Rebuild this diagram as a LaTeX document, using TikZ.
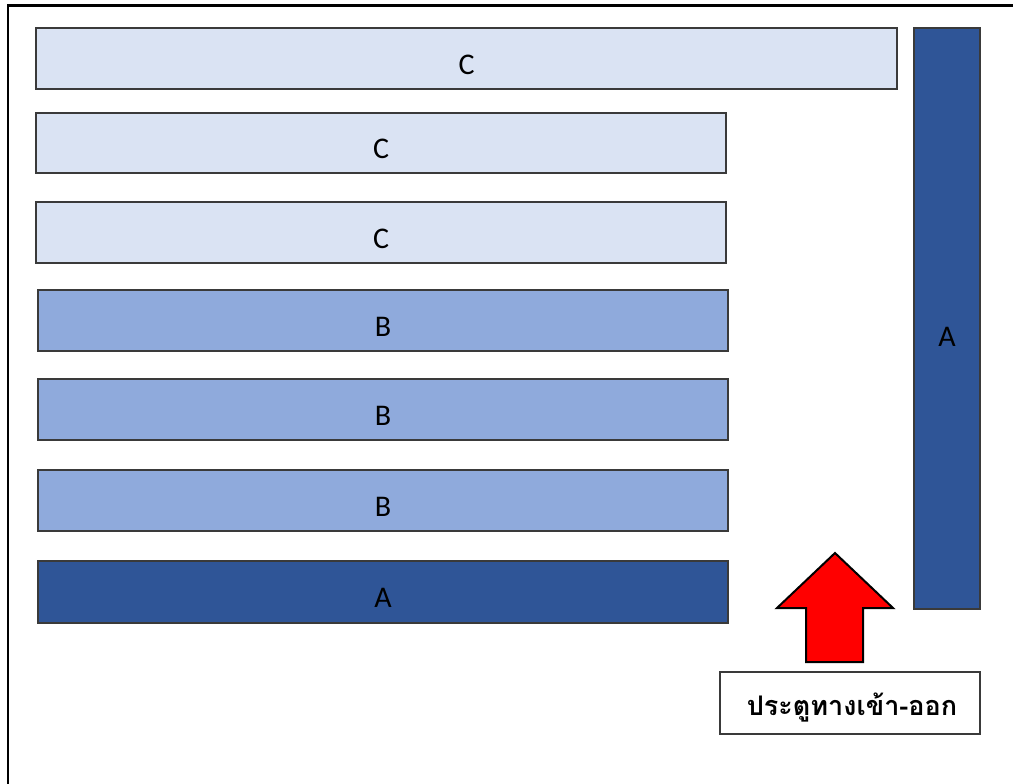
\documentclass[tikz,border=0pt]{standalone}
\usepackage{fontspec}
\setmainfont{Carlito}
\newfontfamily\thaifont[Script=Thai]{Loma}
\definecolor{cfill}{HTML}{DAE3F3}
\definecolor{bfill}{HTML}{8FAADC}
\definecolor{afill}{HTML}{2F5597}
\definecolor{edge}{HTML}{3A3A3A}
\tikzset{
  bar/.style={draw=edge, line width=1.2pt},
  cbar/.style={bar, fill=cfill},
  bbar/.style={bar, fill=bfill},
  abar/.style={bar, fill=afill},
  lbl/.style={font=\fontsize{30}{34}\selectfont, text=black, inner sep=0pt, yshift=-6pt},
}
\begin{document}
\begin{tikzpicture}[x=1pt,y=-1pt]
\useasboundingbox (0,0) rectangle (1013,784);
\fill[white] (0,0) rectangle (1013,784);
\begin{scope}
\clip (0,0) rectangle (1013,784);
\draw[line width=2.5pt] (8,5.5) rectangle (1030,800);
\end{scope}
\draw[cbar] (36,28) rectangle (897,89) node[midway, lbl] (c1) {C};
\draw[cbar] (36,113) rectangle (726,173) node[midway, lbl] (c2) {C};
\draw[cbar] (36,202) rectangle (726,263) node[midway, lbl] (c3) {C};
\draw[bbar] (38,290) rectangle (728,351) node[midway, lbl] (b1) {B};
\draw[bbar] (38,379) rectangle (728,440) node[midway, lbl] (b2) {B};
\draw[bbar] (38,470) rectangle (728,531) node[midway, lbl] (b3) {B};
\draw[abar] (38,561) rectangle (728,623) node[midway, lbl] (a1) {A};
\draw[abar] (914,28) rectangle (980,609) node[midway, lbl, yshift=-12pt] (a2) {A};
\draw[fill=red, draw=black, line width=2pt, line join=miter]
  (835,553) -- (893,608) -- (863,608) -- (863,662) -- (806,662) -- (806,608) -- (777,608) -- cycle;
\node[draw=edge, line width=1.2pt, fill=white, minimum width=260pt, minimum height=62pt, inner sep=0pt] (gate) at (850,703) {};
\node[font=\thaifont\bfseries\fontsize{27}{30}\selectfont, anchor=center] (gatetext) at (852,708) {ประตูทางเข้า-ออก};
\end{tikzpicture}
\end{document}
